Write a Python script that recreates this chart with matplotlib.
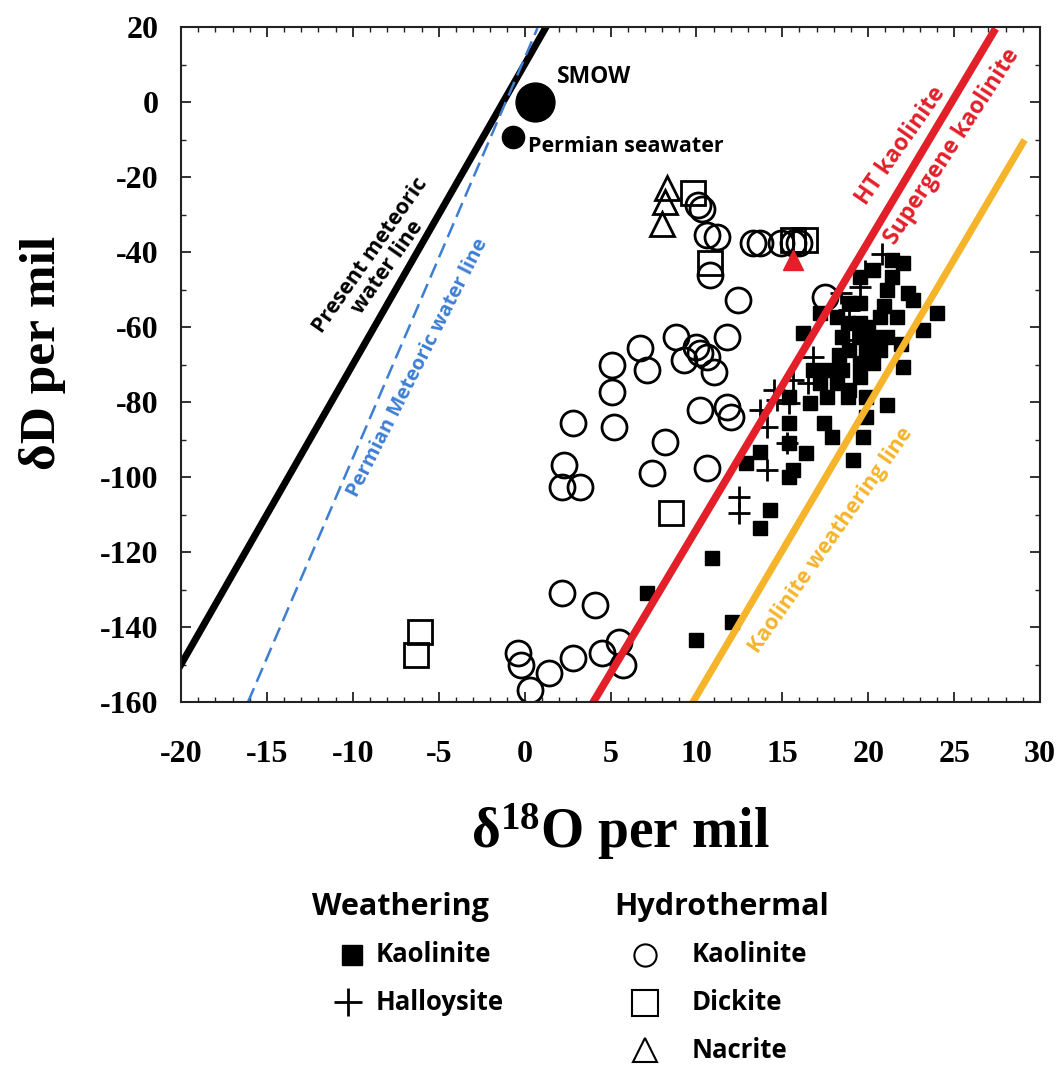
import matplotlib
matplotlib.use('Agg')
import matplotlib.pyplot as plt
from matplotlib.ticker import MultipleLocator
from matplotlib.lines import Line2D

plt.rcParams['mathtext.fontset'] = 'custom'
plt.rcParams['mathtext.rm'] = 'Liberation Serif:bold'
plt.rcParams['mathtext.it'] = 'Liberation Serif:bold'
plt.rcParams['mathtext.bf'] = 'Liberation Serif:bold'
plt.rcParams['axes.unicode_minus'] = False

# --- reference waters ---
smow = (0.6, 0.0)
permian_sw = (-0.7, -9.3)

# --- lines (end points) ---
pmwl_x, pmwl_y = [-20, 1.25], [-150, 20]          # present meteoric water line
permwl_x, permwl_y = [-16.1, 0.75], [-160, 19.7]   # Permian meteoric water line
ht_x, ht_y = [4.0, 27.3], [-160, 18.7]             # HT / supergene kaolinite
kwl_x, kwl_y = [9.8, 29.0], [-160, -10.9]          # kaolinite weathering line

# --- hydrothermal kaolinite (open circles) ---
hk_x = [10.1, 10.3, 10.6, 11.2, 10.8, 12.4, 13.3, 13.7, 14.9, 15.6, 16.0, 17.5,
        8.8, 10.0, 10.2, 10.6, 9.3, 11.8, 11.0, 6.7, 7.1, 5.1, 5.1, 5.2, 2.8,
        10.2, 11.8, 12.0, 8.2, 10.6, 7.4, 2.3, 2.2, 3.2, 2.2, 4.1, -0.4, -0.2,
        1.4, 2.8, 4.5, 5.5, 5.7, 0.3]
hk_y = [-27.5, -28.5, -35.5, -36.0, -46.1, -52.8, -37.6, -37.6, -37.6, -37.6, -37.6, -52.0,
        -62.7, -65.3, -66.9, -68.0, -68.8, -62.7, -72.0, -65.6, -71.5, -70.1, -77.3, -86.7, -85.6,
        -82.1, -81.3, -84.0, -90.7, -97.6, -98.9, -96.8, -102.7, -102.7, -130.9, -134.1, -146.9, -150.1,
        -152.3, -148.3, -146.9, -144.0, -150.1, -156.8]

# --- dickite (open squares) ---
dk_x = [9.8, 10.8, 15.6, 16.3, 8.5, -6.1, -6.3]
dk_y = [-24.3, -42.9, -36.8, -36.8, -109.6, -141.3, -147.5]

# --- nacrite (open triangles) ---
nc_x = [8.3, 8.2, 8.0]
nc_y = [-22.9, -26.7, -32.5]
red_tri = (15.6, -42.1)

# --- weathering kaolinite (filled squares) ---
wk_x = [21.4, 22.0, 20.3, 21.4, 19.5, 21.1, 22.3, 22.6, 24.0, 18.9, 19.5, 17.2, 18.2,
        18.8, 19.5, 20.7, 21.7, 23.2, 16.2, 18.5, 19.5, 20.3, 21.1, 18.9, 19.9, 20.7,
        19.5, 20.3, 22.0, 16.8, 17.6, 18.5, 19.5, 17.2, 18.2, 18.9, 17.6, 18.8, 19.9,
        15.4, 16.6, 21.1, 15.4, 17.4, 17.9, 19.9, 19.7, 15.4, 19.1, 13.7, 16.4, 15.6,
        12.9, 15.4, 14.3, 13.7, 10.9, 7.1, 10.0, 12.1, 20.9, 21.9, 20.0, 18.3]
wk_y = [-42.1, -42.9, -44.8, -46.7, -46.7, -50.1, -50.9, -52.8, -56.3, -53.6, -53.6, -56.3, -57.3,
        -58.9, -58.9, -57.3, -57.3, -60.8, -61.6, -62.7, -62.7, -62.7, -62.7, -66.1, -66.1, -66.1,
        -69.6, -69.6, -70.7, -71.5, -71.5, -71.5, -73.3, -74.9, -74.9, -76.8, -78.7, -78.7, -78.7,
        -78.7, -80.3, -80.8, -85.6, -85.6, -89.3, -84.0, -89.3, -90.9, -95.5, -93.3, -93.6, -98.1,
        -96.3, -100.0, -108.8, -113.6, -121.6, -130.9, -143.5, -138.7, -54.5, -64.5, -60.0, -67.5]

# --- halloysite (crosses) ---
hl_x = [19.5, 18.9, 18.4, 19.1, 16.8, 16.5, 15.6, 14.5, 15.4, 14.7, 13.7, 14.1, 15.3,
        14.1, 12.5, 12.5, 20.8, 19.8]
hl_y = [-49.3, -55.5, -50.9, -63.5, -68.0, -74.9, -74.1, -76.8, -80.3, -79.5, -82.1, -86.7, -90.9,
        -98.1, -105.3, -109.6, -40.5, -45.0]

RED = '#E3202A'
BLUE = '#3D7ED3'
GOLD = '#F5B42A'
W, H = 1063, 1065

fig = plt.figure(figsize=(W / 100, H / 100), dpi=100)
ax = fig.add_axes([181 / W, 1 - 702 / H, (1040 - 181) / W, (702 - 27) / H])

# data points
ax.plot(hk_x, hk_y, 'o', ls='none', mfc='none', mec='black', ms=18, mew=2)
ax.plot(dk_x, dk_y, 's', ls='none', mfc='none', mec='black', ms=17, mew=2)
ax.plot(nc_x, nc_y, '^', ls='none', mfc='none', mec='black', ms=17, mew=2)
ax.plot(wk_x, wk_y, 's', ls='none', color='black', ms=10)
ax.plot(hl_x, hl_y, '+', ls='none', color='black', ms=16, mew=2)
ax.plot(*red_tri, '^', color=RED, ms=14)
ax.plot(*smow, 'o', color='black', ms=28)
ax.plot(*permian_sw, 'o', color='black', ms=16)

# lines
ax.plot(pmwl_x, pmwl_y, color='black', lw=5)
ax.plot(permwl_x, permwl_y, color=BLUE, lw=1.8, dashes=(6, 2.8))
ax.plot(ht_x, ht_y, color=RED, lw=5.5)
ax.plot(kwl_x, kwl_y, color=GOLD, lw=5)

# annotations
sans = 'Open Sans'
ax.text(-8.5, -42.4, 'Present meteoric\nwater line', rotation=55, rotation_mode='anchor',
        ha='center', va='center', fontsize=15.5, fontweight='bold', family=sans,
        linespacing=1.0)
ax.text(-6.2, -70.9, 'Permian Meteoric water line', rotation=63, rotation_mode='anchor',
        ha='center', va='center', fontsize=14.5, fontweight='bold', family=sans, color=BLUE)
ax.text(1.9, 6.7, 'SMOW', ha='left', va='center', fontsize=16.5, fontweight='bold', family=sans)
ax.text(0.2, -12.0, 'Permian seawater', ha='left', va='center', fontsize=15.5,
        fontweight='bold', family=sans)
ax.text(21.9, -11.7, 'HT kaolinite', rotation=55, rotation_mode='anchor', ha='center',
        va='center', fontsize=16.5, fontweight='bold', family=sans, color=RED)
ax.text(24.9, -12.0, 'Supergene kaolinite', rotation=57, rotation_mode='anchor', ha='center',
        va='center', fontsize=16.5, fontweight='bold', family=sans, color=RED)
ax.text(17.8, -116.8, 'Kaolinite weathering line', rotation=55, rotation_mode='anchor',
        ha='center', va='center', fontsize=15.5, fontweight='bold', family=sans, color=GOLD)

# axes styling
ax.set_xlim(-20, 30)
ax.set_ylim(-160, 20)
ax.xaxis.set_major_locator(MultipleLocator(5))
ax.xaxis.set_minor_locator(MultipleLocator(1))
ax.yaxis.set_major_locator(MultipleLocator(20))
ax.yaxis.set_minor_locator(MultipleLocator(10))
ax.tick_params(which='both', direction='in', top=True, right=True, color='#222222')
ax.tick_params(which='major', length=7, width=1.3)
ax.tick_params(which='minor', length=3.5, width=1.0)
ax.tick_params(axis='x', pad=27)
ax.tick_params(axis='y', pad=16)
for lbl in ax.get_xticklabels() + ax.get_yticklabels():
    lbl.set_fontfamily('Liberation Serif')
    lbl.set_fontweight('bold')
    lbl.set_fontsize(23)
for sp in ax.spines.values():
    sp.set_linewidth(1.5)
    sp.set_color('#222222')

fig.text(620 / W, 1 - 832 / H, 'δ$^{18}$O per mil', ha='center', va='center',
         fontsize=40, family='Liberation Serif', fontweight='bold')
fig.text(42 / W, 1 - 353 / H, 'δD per mil', ha='center', va='center', rotation=90,
         fontsize=37, family='Liberation Serif', fontweight='bold')

# legend block
def fig_marker(px, py, **kw):
    fig.add_artist(Line2D([px / W], [1 - py / H], transform=fig.transFigure, ls='none', **kw))

def fig_label(px, py, s, size=18.5, ha='left'):
    fig.text(px / W, 1 - py / H, s, ha=ha, va='center', fontsize=size,
             fontweight='bold', family=sans)

fig_label(400, 907, 'Weathering', size=22, ha='center')
fig_label(722, 907, 'Hydrothermal', size=22, ha='center')
fig_marker(352, 955, marker='s', color='black', ms=15)
fig_label(376, 955, 'Kaolinite')
fig_marker(348, 1002, marker='+', color='black', ms=20, mew=2)
fig_label(376, 1002, 'Halloysite')
fig_marker(645, 955, marker='o', mfc='none', mec='black', ms=16, mew=1.5)
fig_label(692, 955, 'Kaolinite')
fig_marker(645, 1003, marker='s', mfc='none', mec='black', ms=19, mew=1.5)
fig_label(692, 1003, 'Dickite')
fig_marker(645, 1050, marker='^', mfc='none', mec='black', ms=17, mew=1.5)
fig_label(692, 1050, 'Nacrite')

fig.savefig('out.png', dpi=100)
